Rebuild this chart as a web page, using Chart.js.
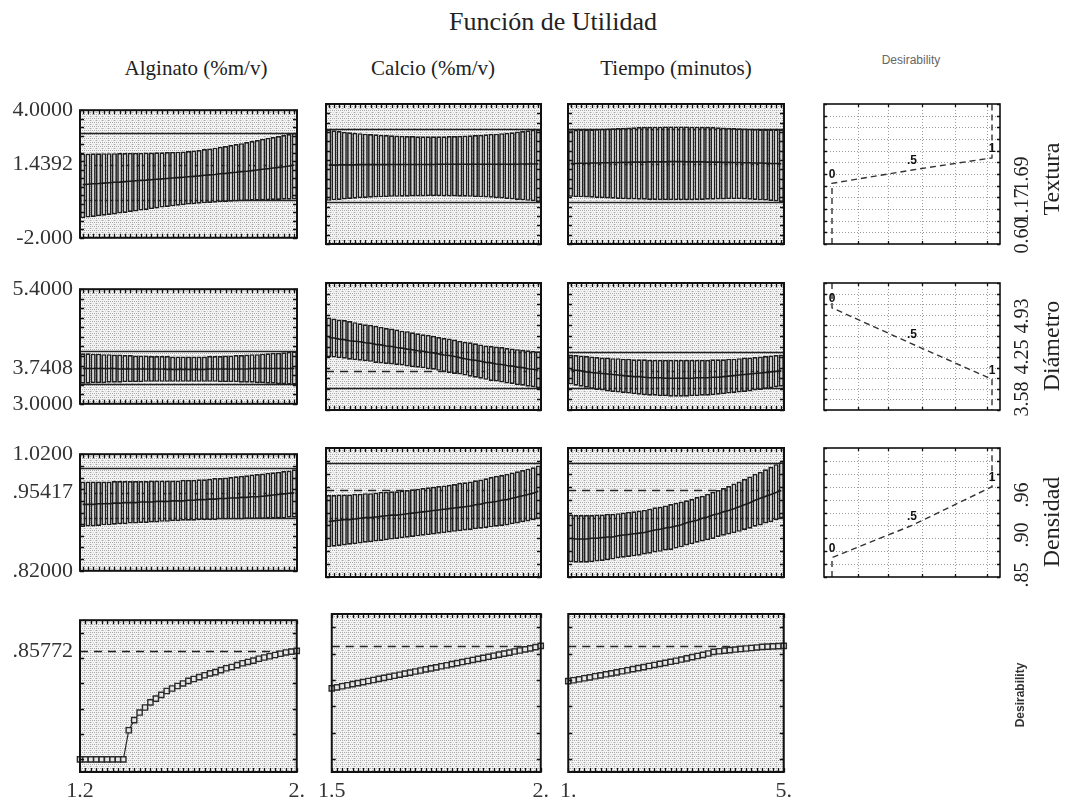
<!DOCTYPE html>
<html>
<head>
<meta charset="utf-8">
<title>Función de Utilidad</title>
<script src="https://cdn.jsdelivr.net/npm/chart.js@4.4.1/dist/chart.umd.min.js"></script>
<style>
  body { margin: 0; background: #fff; }
  #page { position: relative; width: 1067px; height: 804px; overflow: hidden; background: #fff; }
  #page canvas { position: absolute; }
  .txt { position: absolute; white-space: nowrap; line-height: 1; color: #222; font-family: "Liberation Serif", serif; }
</style>
</head>
<body>
<div id="page"></div>
<script>
// factor grids (41 settings per profile)
const alginato = [1.20,1.22,1.24,1.26,1.28,1.30,1.32,1.34,1.36,1.38,1.40,1.42,1.44,1.46,1.48,1.50,1.52,1.54,1.56,1.58,1.60,1.62,1.64,1.66,1.68,1.70,1.72,1.74,1.76,1.78,1.80,1.82,1.84,1.86,1.88,1.90,1.92,1.94,1.96,1.98,2.00];
const calcio = [1.5,1.5125,1.525,1.5375,1.55,1.5625,1.575,1.5875,1.6,1.6125,1.625,1.6375,1.65,1.6625,1.675,1.6875,1.7,1.7125,1.725,1.7375,1.75,1.7625,1.775,1.7875,1.8,1.8125,1.825,1.8375,1.85,1.8625,1.875,1.8875,1.9,1.9125,1.925,1.9375,1.95,1.9625,1.975,1.9875,2.0];
const tiempo = [1.0,1.1,1.2,1.3,1.4,1.5,1.6,1.7,1.8,1.9,2.0,2.1,2.2,2.3,2.4,2.5,2.6,2.7,2.8,2.9,3.0,3.1,3.2,3.3,3.4,3.5,3.6,3.7,3.8,3.9,4.0,4.1,4.2,4.3,4.4,4.5,4.6,4.7,4.8,4.9,5.0];
const alginatoEnds = ['1.2', '2.'];
const calcioEnds = ['1.5', '2.'];
const tiempoEnds = ['1.', '5.'];

const factorNames = ['Alginato (%m/v)', 'Calcio (%m/v)', 'Tiempo (minutos)'];
const responseNames = ['Textura', 'Diámetro', 'Densidad'];

// Textura
const texturaTicks = [-2, 1.4392, 4];
const texturaTickLabels = ['-2.000', '1.4392', '4.0000'];
const texturaCI = [-0.2, 2.92];
const texturaDes = [0.60, 1.17, 1.69];
const texturaDesLabels = ['0.60', '1.17', '1.69'];
const texAlgLo = [-1.08,-1.05,-1.02,-0.99,-0.96,-0.93,-0.90,-0.86,-0.83,-0.79,-0.76,-0.72,-0.69,-0.65,-0.62,-0.58,-0.55,-0.52,-0.49,-0.47,-0.44,-0.42,-0.40,-0.38,-0.36,-0.35,-0.33,-0.32,-0.30,-0.29,-0.28,-0.27,-0.26,-0.25,-0.24,-0.23,-0.22,-0.22,-0.21,-0.21,-0.20];
const texAlgMid = [0.50,0.52,0.54,0.55,0.57,0.59,0.61,0.62,0.64,0.66,0.68,0.70,0.71,0.73,0.75,0.77,0.79,0.81,0.83,0.85,0.87,0.89,0.91,0.94,0.96,0.98,1.01,1.03,1.06,1.08,1.11,1.13,1.16,1.19,1.22,1.25,1.28,1.31,1.34,1.38,1.42];
const texAlgHi = [1.96,1.96,1.97,1.97,1.98,1.98,1.98,1.99,1.99,2.00,2.00,2.00,2.01,2.01,2.02,2.02,2.03,2.04,2.05,2.06,2.08,2.10,2.13,2.17,2.20,2.24,2.28,2.32,2.36,2.41,2.45,2.50,2.55,2.60,2.65,2.70,2.74,2.79,2.83,2.88,2.92];
const texCalLo = [-0.15,-0.13,-0.11,-0.09,-0.07,-0.06,-0.04,-0.03,-0.02,-0.01,0.00,0.01,0.02,0.02,0.03,0.03,0.04,0.04,0.04,0.05,0.05,0.05,0.04,0.04,0.04,0.03,0.03,0.02,0.01,0.00,-0.01,-0.02,-0.04,-0.05,-0.07,-0.09,-0.11,-0.13,-0.15,-0.17,-0.20];
const texCalMid = [1.38,1.38,1.39,1.39,1.39,1.39,1.40,1.40,1.40,1.40,1.40,1.40,1.41,1.41,1.41,1.41,1.41,1.41,1.41,1.41,1.41,1.42,1.42,1.42,1.42,1.42,1.42,1.42,1.42,1.42,1.42,1.42,1.42,1.42,1.42,1.42,1.42,1.43,1.43,1.43,1.44];
const texCalHi = [2.90,2.87,2.84,2.81,2.79,2.77,2.75,2.73,2.71,2.70,2.68,2.67,2.66,2.65,2.64,2.63,2.63,2.62,2.62,2.62,2.62,2.62,2.62,2.63,2.63,2.64,2.65,2.66,2.67,2.68,2.70,2.72,2.73,2.75,2.77,2.79,2.82,2.84,2.87,2.89,2.92];
const texTimLo = [0.02,0.01,0.00,-0.01,-0.02,-0.03,-0.04,-0.05,-0.06,-0.07,-0.08,-0.09,-0.09,-0.10,-0.10,-0.11,-0.11,-0.12,-0.12,-0.12,-0.12,-0.12,-0.12,-0.12,-0.11,-0.11,-0.10,-0.10,-0.09,-0.09,-0.08,-0.08,-0.08,-0.09,-0.10,-0.11,-0.13,-0.14,-0.16,-0.18,-0.20];
const texTimMid = [1.45,1.45,1.46,1.46,1.47,1.47,1.48,1.48,1.49,1.49,1.50,1.50,1.51,1.51,1.51,1.52,1.52,1.52,1.52,1.53,1.53,1.53,1.52,1.52,1.52,1.52,1.51,1.51,1.51,1.50,1.50,1.49,1.49,1.48,1.48,1.47,1.47,1.46,1.45,1.45,1.44];
const texTimHi = [2.88,2.89,2.90,2.91,2.92,2.93,2.94,2.95,2.96,2.97,2.98,2.99,3.00,3.01,3.02,3.02,3.03,3.03,3.04,3.04,3.04,3.04,3.04,3.03,3.03,3.02,3.02,3.01,3.00,2.99,2.98,2.97,2.96,2.95,2.94,2.93,2.92,2.92,2.92,2.92,2.92];

// Diámetro
const diametroTicks = [3.0, 3.7408, 5.4];
const diametroTickLabels = ['3.0000', '3.7408', '5.4000'];
const diametroCI = [3.41, 4.10];
const diametroDes = [4.93, 4.25, 3.58];
const diametroDesLabels = ['4.93', '4.25', '3.58'];
const diaAlgLo = [3.42,3.42,3.43,3.43,3.43,3.44,3.44,3.44,3.45,3.45,3.45,3.45,3.46,3.46,3.46,3.46,3.46,3.46,3.46,3.46,3.46,3.46,3.46,3.46,3.46,3.46,3.45,3.45,3.45,3.45,3.44,3.44,3.44,3.43,3.43,3.42,3.42,3.41,3.41,3.40,3.40];
const diaAlgMid = [3.74,3.74,3.74,3.74,3.74,3.74,3.74,3.73,3.73,3.73,3.73,3.73,3.73,3.73,3.73,3.73,3.72,3.72,3.72,3.72,3.72,3.72,3.72,3.72,3.73,3.73,3.73,3.73,3.73,3.73,3.73,3.73,3.74,3.74,3.74,3.74,3.74,3.74,3.74,3.74,3.74];
const diaAlgHi = [4.06,4.06,4.05,4.05,4.04,4.04,4.03,4.03,4.02,4.02,4.01,4.01,4.01,4.00,4.00,4.00,4.00,3.99,3.99,3.99,3.99,3.99,3.99,3.99,4.00,4.00,4.00,4.01,4.01,4.02,4.02,4.03,4.04,4.04,4.05,4.06,4.07,4.07,4.08,4.09,4.10];
const diaCalLo = [4.00,3.99,3.98,3.97,3.95,3.94,3.93,3.92,3.91,3.89,3.88,3.87,3.86,3.85,3.84,3.82,3.81,3.80,3.79,3.77,3.76,3.74,3.72,3.70,3.68,3.67,3.65,3.63,3.61,3.59,3.57,3.55,3.54,3.52,3.50,3.49,3.47,3.46,3.44,3.43,3.41];
const diaCalMid = [4.37,4.36,4.34,4.33,4.31,4.30,4.29,4.27,4.26,4.24,4.23,4.21,4.20,4.18,4.17,4.15,4.14,4.12,4.11,4.09,4.08,4.06,4.04,4.03,4.01,3.99,3.97,3.95,3.94,3.92,3.90,3.89,3.87,3.86,3.84,3.83,3.81,3.80,3.78,3.77,3.75];
const diaCalHi = [4.75,4.73,4.71,4.70,4.68,4.66,4.64,4.62,4.61,4.59,4.57,4.55,4.54,4.52,4.50,4.49,4.47,4.45,4.43,4.42,4.40,4.38,4.36,4.35,4.33,4.31,4.29,4.28,4.26,4.24,4.22,4.21,4.20,4.19,4.17,4.16,4.15,4.14,4.13,4.12,4.11];
const diaTimLo = [3.48,3.46,3.44,3.42,3.40,3.38,3.37,3.35,3.34,3.33,3.32,3.31,3.30,3.29,3.28,3.27,3.27,3.26,3.26,3.25,3.25,3.25,3.25,3.26,3.26,3.27,3.27,3.28,3.29,3.30,3.31,3.32,3.33,3.34,3.35,3.37,3.38,3.40,3.41,3.43,3.44];
const diaTimMid = [3.76,3.75,3.74,3.72,3.71,3.70,3.69,3.68,3.67,3.66,3.65,3.64,3.63,3.63,3.62,3.61,3.61,3.61,3.60,3.60,3.60,3.60,3.60,3.60,3.61,3.61,3.61,3.62,3.62,3.63,3.64,3.65,3.66,3.67,3.68,3.69,3.70,3.71,3.72,3.73,3.74];
const diaTimHi = [4.05,4.04,4.03,4.02,4.01,4.00,3.99,3.99,3.98,3.98,3.97,3.97,3.96,3.96,3.96,3.95,3.95,3.95,3.95,3.95,3.95,3.95,3.95,3.95,3.95,3.95,3.95,3.96,3.96,3.96,3.97,3.97,3.98,3.99,3.99,4.00,4.01,4.02,4.03,4.04,4.05];

// Densidad
const densidadTicks = [0.82, 0.95417, 1.02];
const densidadTickLabels = ['.82000', '.95417', '1.0200'];
const densidadCI = [0.911, 0.997];
const densidadDes = [0.85, 0.90, 0.96];
const densidadDesLabels = ['.85', '.90', '.96'];
const denAlgLo = [.895,.896,.896,.897,.898,.898,.899,.900,.900,.901,.901,.902,.902,.903,.903,.904,.904,.905,.905,.906,.906,.906,.907,.907,.907,.907,.908,.908,.908,.908,.908,.909,.909,.909,.909,.910,.910,.910,.910,.911,.911];
const denAlgMid = [.934,.934,.934,.935,.935,.935,.936,.936,.937,.937,.937,.938,.938,.938,.939,.939,.939,.940,.940,.940,.941,.941,.942,.942,.943,.943,.944,.944,.945,.945,.946,.946,.947,.947,.948,.949,.950,.951,.952,.953,.954];
const denAlgHi = [.973,.973,.973,.973,.973,.973,.974,.974,.974,.974,.974,.974,.974,.975,.975,.975,.975,.975,.975,.976,.976,.976,.977,.977,.978,.979,.979,.980,.981,.982,.983,.984,.985,.986,.987,.988,.989,.990,.991,.992,.994];
const denCalLo = [.866,.867,.868,.869,.870,.871,.872,.873,.874,.875,.876,.877,.878,.879,.880,.881,.882,.883,.884,.885,.886,.887,.888,.889,.890,.891,.892,.893,.894,.895,.896,.897,.898,.899,.900,.902,.903,.905,.906,.908,.910];
const denCalMid = [.906,.907,.908,.909,.909,.910,.911,.912,.912,.913,.914,.915,.916,.916,.917,.918,.919,.920,.921,.922,.923,.924,.925,.926,.927,.928,.929,.930,.932,.933,.935,.936,.937,.939,.940,.942,.944,.946,.948,.950,.953];
const denCalHi = [.947,.947,.948,.948,.948,.949,.949,.950,.950,.951,.952,.952,.953,.953,.954,.955,.956,.957,.958,.959,.960,.961,.962,.963,.964,.966,.967,.968,.970,.971,.973,.975,.977,.978,.980,.982,.984,.986,.988,.990,.993];
const denTimLo = [.843,.842,.842,.842,.843,.844,.845,.846,.847,.849,.850,.851,.852,.853,.855,.856,.858,.859,.861,.862,.864,.866,.869,.871,.873,.875,.877,.879,.882,.884,.886,.888,.890,.893,.895,.898,.900,.903,.905,.908,.911];
const denTimMid = [.880,.879,.879,.879,.880,.880,.881,.882,.882,.884,.885,.886,.887,.888,.889,.891,.893,.894,.896,.897,.899,.901,.904,.906,.908,.911,.913,.916,.918,.921,.923,.926,.929,.932,.935,.939,.942,.945,.948,.951,.954];
const denTimHi = [.917,.916,.916,.916,.916,.917,.917,.918,.918,.919,.920,.921,.922,.923,.924,.926,.928,.929,.931,.933,.935,.937,.939,.941,.944,.946,.949,.952,.955,.958,.961,.965,.968,.972,.976,.980,.983,.987,.991,.995,.998];

// overall desirability
const deseabTicks = [-0.1, 0.85772, 1.1];
const deseabTickLabels = ['', '.85772', ''];
const desAlg = [0,0,0,0,0,0,0,0,0,.23,.31,.37,.41,.45,.48,.51,.54,.56,.58,.60,.62,.635,.65,.665,.68,.69,.705,.72,.73,.745,.76,.77,.78,.795,.805,.815,.825,.835,.845,.852,.858];
const desCal = [.535,.543,.551,.559,.567,.575,.583,.591,.599,.607,.615,.623,.631,.639,.647,.655,.663,.671,.679,.687,.695,.703,.711,.719,.727,.735,.743,.751,.759,.767,.775,.783,.791,.799,.807,.815,.823,.831,.839,.848,.858];
const desTim = [.590,.597,.604,.612,.619,.627,.634,.642,.649,.657,.665,.673,.681,.689,.697,.705,.713,.721,.729,.737,.745,.754,.763,.772,.781,.790,.800,.812,.817,.822,.826,.830,.834,.838,.842,.846,.850,.852,.854,.856,.858];
const desLevels = [0, 0.5, 1];
const desLevelLabels = ['0', '.5', '1'];

// ---------- layout ----------
const page = document.getElementById('page');
const colX = [[80, 297], [326, 541], [568, 784]];
const rowY = [[104, 244], [283, 410], [448, 577], [614, 772]];
const desX = [824, 1000];
const serif = 'Liberation Serif';

const tile = document.createElement('canvas');
tile.width = 6; tile.height = 4;
(function () {
  const g = tile.getContext('2d');
  g.fillStyle = '#f4f4f4'; g.fillRect(0, 0, 6, 4);
  g.fillStyle = '#aaaaaa';
  [[0, 0], [2, 0], [4, 0], [0, 2]].forEach(p => g.fillRect(p[0], p[1], 1, 1));
  g.fillStyle = '#d2d2d2';
  [[3, 2], [1, 2], [5, 2]].forEach(p => g.fillRect(p[0], p[1], 1, 1));
})();

function hline(ctx, a, py) {
  py = Math.round(py) + 0.5;
  ctx.beginPath(); ctx.moveTo(a.left, py); ctx.lineTo(a.right, py); ctx.stroke();
}

const deco = {
  id: 'deco',
  beforeDraw(chart, args, o) {
    const { ctx, chartArea: a, scales: { x, y } } = chart;
    ctx.save();
    ctx.fillStyle = o.texture ? ctx.createPattern(tile, 'repeat') : '#fff';
    ctx.fillRect(a.left, a.top, a.width, a.height);
    if (o.gridX) {
      ctx.strokeStyle = '#9c9c9c'; ctx.lineWidth = 1; ctx.setLineDash([1, 2]);
      o.gridX.forEach(v => {
        const px = Math.round(x.getPixelForValue(v)) + 0.5;
        ctx.beginPath(); ctx.moveTo(px, a.top); ctx.lineTo(px, a.bottom); ctx.stroke();
      });
      const n = Math.floor((y.max - o.yFrom) / o.yStep + 1e-6);
      for (let k = 1; k < n; k++) hline(ctx, a, y.getPixelForValue(o.yFrom + k * o.yStep));
    }
    ctx.restore();
  },
  beforeDatasetsDraw(chart, args, o) {
    const { ctx, chartArea: a, scales: { y } } = chart;
    ctx.save();
    ctx.strokeStyle = '#222'; ctx.lineWidth = 1.4;
    (o.solid || []).forEach(v => hline(ctx, a, y.getPixelForValue(v)));
    if (o.dashed !== undefined) {
      ctx.setLineDash([8, 6]);
      hline(ctx, a, y.getPixelForValue(o.dashed));
    }
    ctx.restore();
  },
  afterDraw(chart, args, o) {
    const { ctx, chartArea: a, scales: { x, y } } = chart;
    ctx.save();
    ctx.strokeStyle = '#111';
    ctx.lineWidth = 1.3;
    const xs = o.gridX ? o.gridX.map(v => x.getPixelForValue(v))
                       : chart.data.labels.map((_, i) => x.getPixelForValue(i));
    ctx.beginPath();
    xs.forEach(px => {
      px = Math.round(px) + 0.5;
      ctx.moveTo(px, a.top); ctx.lineTo(px, a.top + o.tick);
      ctx.moveTo(px, a.bottom); ctx.lineTo(px, a.bottom - o.tick);
    });
    const n = Math.floor((y.max - o.yFrom) / o.yStep + 1e-6);
    for (let k = 0; k <= n; k++) {
      const py = Math.round(y.getPixelForValue(o.yFrom + k * o.yStep)) + 0.5;
      ctx.moveTo(a.left, py); ctx.lineTo(a.left + o.tick, py);
      ctx.moveTo(a.right, py); ctx.lineTo(a.right - o.tick, py);
    }
    ctx.stroke();
    ctx.lineWidth = o.frame;
    ctx.strokeRect(a.left, a.top, a.width, a.height);
    if (o.marks) {
      const pts = chart.getDatasetMeta(0).data;
      ctx.fillStyle = '#111';
      ctx.font = 'bold 12px "Liberation Sans"';
      ctx.textAlign = 'center'; ctx.textBaseline = 'middle';
      o.marks.forEach((t, i) => ctx.fillText(t, pts[i + 1].x, pts[i + 1].y - 9));
    }
    ctx.restore();
  }
};

function addCanvas(x, y, w, h) {
  const c = document.createElement('canvas');
  c.width = w; c.height = h;
  c.style.left = x + 'px'; c.style.top = y + 'px';
  c.style.width = w + 'px'; c.style.height = h + 'px';
  page.appendChild(c);
  return c;
}

function addText(str, x, y, style, rot) {
  const d = document.createElement('div');
  d.className = 'txt';
  d.textContent = str;
  d.style.left = x + 'px'; d.style.top = y + 'px';
  Object.assign(d.style, style);
  d.style.transform = 'translate(-50%,-50%)' + (rot ? ' rotate(-90deg)' : '');
  page.appendChild(d);
}

function yScale(L, ticks, tickLabels, showY) {
  const s = {
    min: ticks[0], max: ticks[2],
    display: showY,
    grid: { display: false, drawTicks: false },
    border: { display: false }
  };
  if (showY) {
    s.afterFit = sc => { sc.width = L; };
    s.afterBuildTicks = sc => { sc.ticks = ticks.map(v => ({ value: v })); };
    s.ticks = { callback: (v, i) => tickLabels[i], font: { family: serif, size: 22 }, color: '#333', padding: 7 };
  }
  return s;
}

// profile with confidence bars: rows Textura, Diámetro, Densidad
function profile(col, row, xs, lo, mid, hi, ticks, tickLabels, ci, yStep) {
  const [L, R] = colX[col], [T, B] = rowY[row];
  const P = 14, showY = col === 0;
  const cx = showY ? 0 : L - P, cy = T - P;
  const canvas = addCanvas(cx, cy, R + P - cx, B + P - cy);
  new Chart(canvas, {
    type: 'bar',
    data: {
      labels: xs,
      datasets: [
        { type: 'line', data: mid, borderColor: '#1a1a1a', borderWidth: 1.6, pointRadius: 0, order: 0 },
        { type: 'bar', data: lo.map((v, i) => [v, hi[i]]), backgroundColor: '#d4d4d4', borderColor: '#1f1f1f',
          borderWidth: 1.7, borderSkipped: false, barPercentage: 0.96, categoryPercentage: 1, order: 1 }
      ]
    },
    options: {
      responsive: false, animation: false, devicePixelRatio: 1,
      layout: { padding: { left: showY ? 0 : P, right: P, top: P, bottom: P } },
      plugins: {
        legend: { display: false }, tooltip: { enabled: false },
        deco: { texture: true, solid: ci, dashed: ticks[1], yFrom: ticks[0], yStep: yStep, tick: 4, frame: 2 }
      },
      scales: {
        x: { display: false },
        y: yScale(L, ticks, tickLabels, showY)
      }
    },
    plugins: [deco]
  });
}

// overall desirability profile (bottom row)
function desProfile(col, xs, values, ends) {
  const [L, R] = colX[col], [T, B] = rowY[3];
  const P = 14, showY = col === 0, XH = 34;
  const cx = showY ? 0 : L - P, cy = T - P;
  const canvas = addCanvas(cx, cy, R + P - cx, B + XH - cy);
  new Chart(canvas, {
    type: 'line',
    data: {
      labels: xs,
      datasets: [{
        data: values, borderColor: '#2a2a2a', borderWidth: 1.2, tension: 0,
        pointStyle: 'rect', pointRadius: 3.7, pointBorderWidth: 1.4,
        pointBorderColor: '#2a2a2a', pointBackgroundColor: '#e6e6e6'
      }]
    },
    options: {
      responsive: false, animation: false, devicePixelRatio: 1,
      layout: { padding: { left: showY ? 0 : P, right: P, top: P, bottom: 0 } },
      plugins: {
        legend: { display: false }, tooltip: { enabled: false },
        deco: { texture: true, dashed: deseabTicks[1], yFrom: 0, yStep: 0.2, tick: 4, frame: 2 }
      },
      scales: {
        x: {
          offset: false,
          afterFit: s => { s.height = XH; },
          afterBuildTicks: s => { s.ticks = [{ value: 0 }, { value: xs.length - 1 }]; },
          ticks: { callback: (v, i) => ends[i], autoSkip: false, maxRotation: 0,
                   font: { family: serif, size: 22 }, color: '#333', padding: 6 },
          grid: { display: false, drawTicks: false },
          border: { display: false }
        },
        y: yScale(L, deseabTicks, deseabTickLabels, showY)
      }
    },
    plugins: [deco]
  });
}

// desirability function of each response (right column)
function desFunction(row, ticks, levels, yStep) {
  const [L, R] = desX, [T, B] = rowY[row];
  const P = 14;
  const rising = levels[0] < levels[2];
  const pts = [
    { x: desLevels[0], y: rising ? ticks[0] : ticks[2] },
    { x: desLevels[0], y: levels[0] },
    { x: desLevels[1], y: levels[1] },
    { x: desLevels[2], y: levels[2] },
    { x: desLevels[2], y: rising ? ticks[2] : ticks[0] }
  ];
  const canvas = addCanvas(L - P, T - P, R - L + 2 * P, B - T + 2 * P);
  new Chart(canvas, {
    type: 'line',
    data: { datasets: [{ data: pts, borderColor: '#333', borderWidth: 1.4, borderDash: [6, 4], pointRadius: 0, tension: 0 }] },
    options: {
      responsive: false, animation: false, devicePixelRatio: 1,
      layout: { padding: P },
      plugins: {
        legend: { display: false }, tooltip: { enabled: false },
        deco: { texture: false, gridX: [0.16, 0.35, 0.56, 0.77, 0.97], yFrom: ticks[0], yStep: yStep,
                tick: 3, frame: 1.6, marks: desLevelLabels }
      },
      scales: {
        x: { type: 'linear', min: -0.05, max: 1.05, display: false },
        y: { min: ticks[0], max: ticks[2], display: false }
      }
    },
    plugins: [deco]
  });
}

profile(0, 0, alginato, texAlgLo, texAlgMid, texAlgHi, texturaTicks, texturaTickLabels, texturaCI, 0.4);
profile(1, 0, calcio, texCalLo, texCalMid, texCalHi, texturaTicks, texturaTickLabels, texturaCI, 0.4);
profile(2, 0, tiempo, texTimLo, texTimMid, texTimHi, texturaTicks, texturaTickLabels, texturaCI, 0.4);
profile(0, 1, alginato, diaAlgLo, diaAlgMid, diaAlgHi, diametroTicks, diametroTickLabels, diametroCI, 0.2);
profile(1, 1, calcio, diaCalLo, diaCalMid, diaCalHi, diametroTicks, diametroTickLabels, diametroCI, 0.2);
profile(2, 1, tiempo, diaTimLo, diaTimMid, diaTimHi, diametroTicks, diametroTickLabels, diametroCI, 0.2);
profile(0, 2, alginato, denAlgLo, denAlgMid, denAlgHi, densidadTicks, densidadTickLabels, densidadCI, 0.02);
profile(1, 2, calcio, denCalLo, denCalMid, denCalHi, densidadTicks, densidadTickLabels, densidadCI, 0.02);
profile(2, 2, tiempo, denTimLo, denTimMid, denTimHi, densidadTicks, densidadTickLabels, densidadCI, 0.02);

desProfile(0, alginato, desAlg, alginatoEnds);
desProfile(1, calcio, desCal, calcioEnds);
desProfile(2, tiempo, desTim, tiempoEnds);

desFunction(0, texturaTicks, texturaDes, 0.5);
desFunction(1, diametroTicks, diametroDes, 0.2);
desFunction(2, densidadTicks, densidadDes, 0.02);

// ---------- texts ----------
addText('Función de Utilidad', 553, 22, { fontSize: '26px' });
[196, 433, 676].forEach((x, i) => addText(factorNames[i], x, 68, { fontSize: '21px' }));
addText('Desirability', 911, 60, { fontFamily: '"Liberation Sans", sans-serif', fontSize: '12px', color: '#666' });
[179, 346, 522].forEach((y, i) => addText(responseNames[i], 1051, y, { fontSize: '24px' }, true));
const desLabelRows = [texturaDesLabels, diametroDesLabels, densidadDesLabels];
const desLabelY = [[236, 206, 174], [316, 357, 399], [575, 535, 495]];
desLabelRows.forEach((labels, r) => labels.forEach((t, i) =>
  addText(t, 1021, desLabelY[r][i], { fontSize: '20px' }, true)));
addText('Desirability', 1020, 695, { fontFamily: '"Liberation Sans", sans-serif', fontSize: '12px', fontWeight: 'bold', color: '#333' }, true);
</script>
</body>
</html>
